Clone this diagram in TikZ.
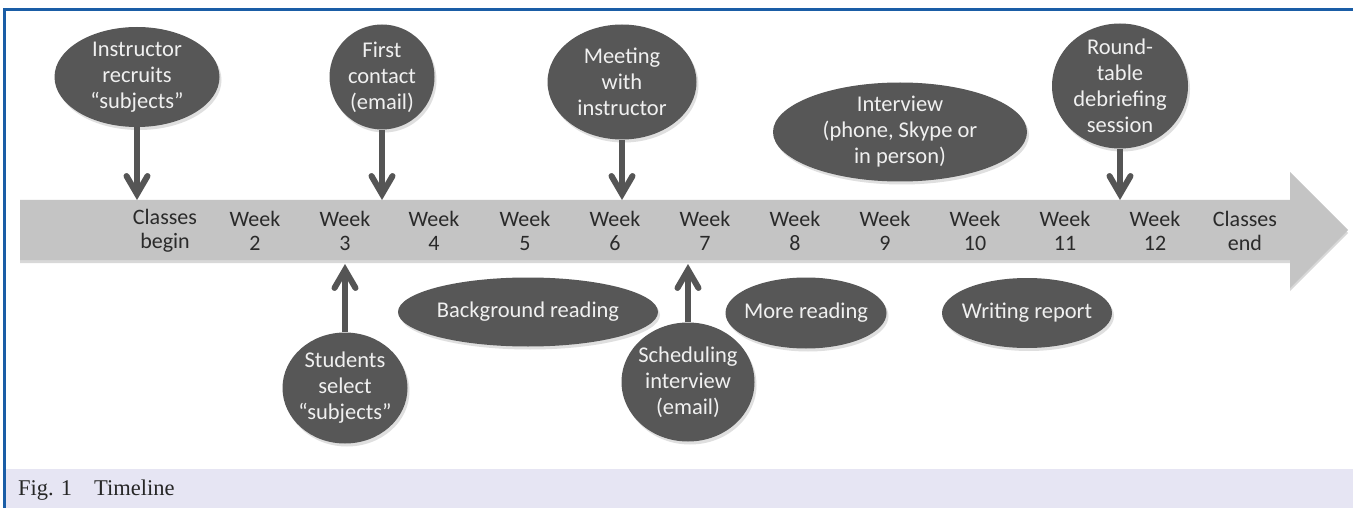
\documentclass[tikz,border=0pt]{standalone}
\usepackage{fontspec}
\setmainfont{Carlito}
\newfontfamily\capfont{Liberation Serif}
\usetikzlibrary{arrows.meta,shapes.geometric,shadows}
\definecolor{bordblue}{HTML}{1A5DA6}
\definecolor{barcol}{HTML}{C4C4C4}
\definecolor{bubcol}{HTML}{575757}
\definecolor{capbg}{HTML}{E6E5F3}
\definecolor{labcol}{HTML}{2A2A2A}
\definecolor{conncol}{HTML}{555555}
\tikzset{
  bubble/.style={ellipse, fill=bubcol, inner sep=0pt,
    drop shadow={shadow xshift=2pt, shadow yshift=-3pt, opacity=0.25}},
  btext/.style={text=white!94!black, font=\fontsize{22.5}{26}\selectfont, align=center, inner sep=0pt},
  weeklab/.style={text=labcol, font=\fontsize{22}{23.5}\selectfont, align=center, inner sep=0pt},
  conn/.style={draw=conncol, line width=6pt,
    -{Straight Barb[length=18pt,width=21pt,line cap=round]}},
}
\begin{document}
\begin{tikzpicture}[x=1pt,y=-1pt]
\useasboundingbox (0,0) rectangle (1353,508);
\fill[white] (0,0) rectangle (1353,508);
% caption band
\fill[capbg] (5,469) rectangle (1353,508);
\node[anchor=base west, inner sep=0pt, font=\capfont\fontsize{22.5}{24}\selectfont, text=black!85] (cap) at (18,495) {Fig.\hspace{7pt}1\hspace{22pt}Timeline};
% frame
\draw[bordblue, line width=3.2pt] (4.5,508) -- (4.5,9.5) -- (1353,9.5);
% timeline arrow
\fill[barcol, drop shadow={shadow xshift=0pt, shadow yshift=-3pt, opacity=0.3}]
  (20,200) -- (1290,200) -- (1290,172) -- (1348,230) -- (1290,288) -- (1290,260) -- (20,260) -- cycle;
% week labels
\node[weeklab] (w1) at (165,231) {Classes\\begin};
\node[weeklab] (w2) at (255,231) {Week\\2};
\node[weeklab] (w3) at (345,231) {Week\\3};
\node[weeklab] (w4) at (434,231) {Week\\4};
\node[weeklab] (w5) at (525,231) {Week\\5};
\node[weeklab] (w6) at (615,231) {Week\\6};
\node[weeklab] (w7) at (705,231) {Week\\7};
\node[weeklab] (w8) at (795,231) {Week\\8};
\node[weeklab] (w9) at (885,231) {Week\\9};
\node[weeklab] (w10) at (975,231) {Week\\10};
\node[weeklab] (w11) at (1065,231) {Week\\11};
\node[weeklab] (w12) at (1155,231) {Week\\12};
\node[weeklab] (w13) at (1245,231) {Classes\\end};
% points on the bar
\coordinate (t1) at (137,200);
\coordinate (t2) at (382,200);
\coordinate (t3) at (622,200);
\coordinate (t5) at (1120,200);
\coordinate (u1) at (345,264);
\coordinate (u2) at (688,264);
% top bubbles
\node[bubble, minimum width=165pt, minimum height=100pt] (b1) at (137,77) {};
\node[btext] (b1t) at (b1.center) {Instructor\\recruits\\“subjects”};
\node[bubble, minimum width=105pt, minimum height=105pt] (b2) at (382,77) {};
\node[btext] (b2t) at (b2.center) {First\\contact\\(email)};
\node[bubble, minimum width=149pt, minimum height=115pt] (b3) at (622,82) {};
\node[btext] (b3t) at (b3.center) {Meeting\\with\\instructor};
\node[bubble, minimum width=254pt, minimum height=99pt] (b4) at (900,132) {};
\node[btext] (b4t) at (b4.center) {Interview\\(phone, Skype or\\in person)};
\node[bubble, minimum width=136pt, minimum height=125pt] (b5) at (1120,86) {};
\node[btext] (b5t) at (b5.center) {Round-\\table\\debriefing\\session};
% bottom bubbles
\node[bubble, minimum width=125pt, minimum height=111pt] (c1) at (345,388) {};
\node[btext] (c1t) at (c1.center) {Students\\select\\“subjects”};
\node[bubble, minimum width=260pt, minimum height=69pt] (c2) at (528,312) {};
\node[btext] (c2t) at (c2.center) {Background reading};
\node[bubble, minimum width=133pt, minimum height=119pt] (c3) at (688,382) {};
\node[btext] (c3t) at (c3.center) {Scheduling\\interview\\(email)};
\node[bubble, minimum width=161pt, minimum height=71pt] (c4) at (806,313) {};
\node[btext] (c4t) at (c4.center) {More reading};
\node[bubble, minimum width=170pt, minimum height=70pt] (c5) at (1027,313) {};
\node[btext] (c5t) at (c5.center) {Writing report};
% connectors
\draw[conn] (b1.south) -- (t1);
\draw[conn] (b2.south) -- (t2);
\draw[conn] (b3.south) -- (t3);
\draw[conn] (b5.south) -- (t5);
\draw[conn] (c1.north) -- (u1);
\draw[conn] (c3.north) -- (u2);
\end{tikzpicture}
\end{document}
